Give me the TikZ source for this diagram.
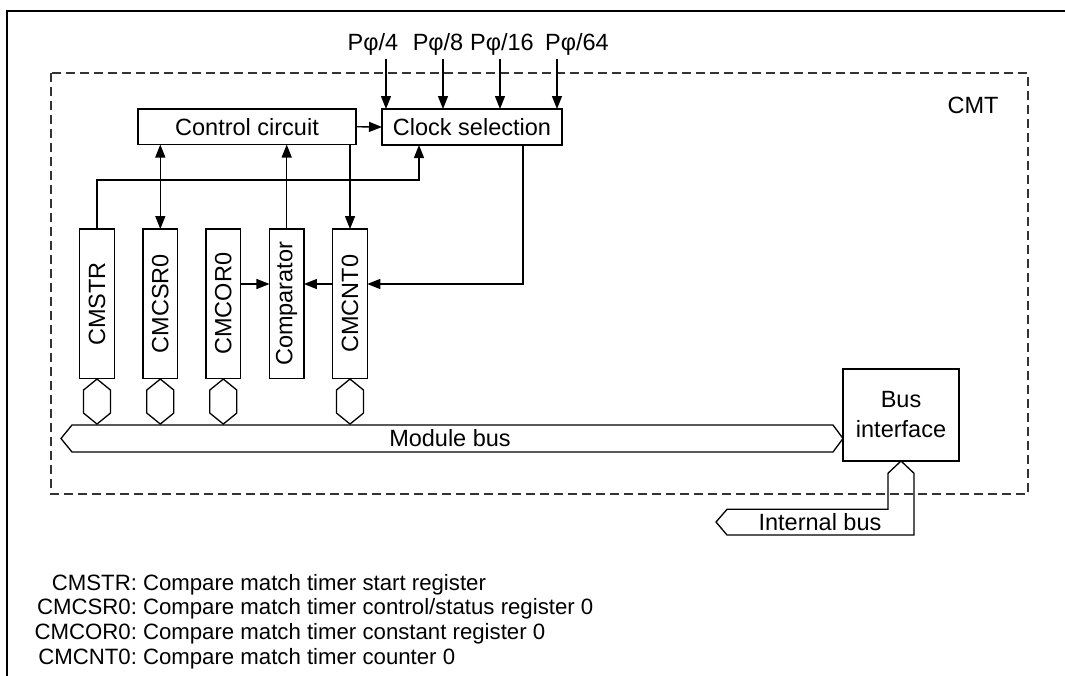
\documentclass[tikz,border=0pt]{standalone}
\usepackage{fontspec}
\setmainfont{Liberation Sans}
\usetikzlibrary{arrows.meta}
\begin{document}
\begin{tikzpicture}[x=1pt,y=-1pt,
  line width=1.3pt,
  every node/.style={inner sep=0pt, outer sep=0pt},
  dfont/.style={font=\fontsize{23.5}{30}\selectfont},
  lfont/.style={font=\fontsize{22.2}{26}\selectfont},
  box/.style={draw, dfont, align=center},
  reg/.style={draw, dfont, minimum width=34.5pt, minimum height=149.5pt},
  arr/.style={-{Triangle[length=13pt,width=10pt]}},
  darr/.style={{Triangle[length=13pt,width=10pt]}-{Triangle[length=13pt,width=10pt]}},
  bus/.style={draw, line join=miter},
]
\useasboundingbox (0,0) rectangle (1065,675);
% outer frame
\draw[line width=2.5pt] (1070,11) -- (7,11) -- (7,680);
% CMT module border
\draw[black!80, dash pattern=on 9pt off 5pt] (51,73) rectangle (1028,494);
\node[dfont, anchor=base] (cmt) at (973,113) {CMT};

% blocks
\node[box, minimum width=218pt, minimum height=35.5pt] (ctl) at (247,126.8) {Control circuit};
\node[box, minimum width=180pt, minimum height=36pt] (clk) at (472,127) {Clock selection};

% clock inputs
\node[dfont, anchor=base] (lp4)  at (373,50) {Pφ/4};
\node[dfont, anchor=base] (lp8)  at (438,50) {Pφ/8};
\node[dfont, anchor=base] (lp16) at (502,50) {Pφ/16};
\node[dfont, anchor=base] (lp64) at (577,50) {Pφ/64};
\foreach \x/\n in {386/4,443/8,500/16,557/64}{
  \coordinate (p\n) at (\x,59);
  \draw[arr] (p\n) -- (p\n |- clk.north);
}

% registers
\node[reg] (cmstr) at (97,303.8)  {\rotatebox{90}{CMSTR}};
\node[reg] (cmcsr) at (160.3,303.8) {\rotatebox{90}{CMCSR0}};
\node[reg] (cmcor) at (223.3,303.8) {\rotatebox{90}{CMCOR0}};
\node[reg] (cmp)   at (286.7,303.8) {\rotatebox{90}{Comparator}};
\node[reg] (cmcnt) at (350,303.8)   {\rotatebox{90}{CMCNT0}};

% module bus
\draw[bus] (61,438.5) -- (72,425) -- (833,425) -- (843,438.5) -- (833,452) -- (72,452) -- cycle;
\node[dfont] (mbus) at (450,438.5) {Module bus};

% hexagon connectors
\foreach \r in {cmstr,cmcsr,cmcor,cmcnt}{
  \draw[line join=miter] (\r.south) ++(0,0.5) -- ++(13.5,11) -- ++(0,23) -- ++(-13.5,11) -- ++(-13.5,-11) -- ++(0,-23) -- cycle;
}

% bus interface
\node[box, minimum width=116pt, minimum height=92pt] (bif) at (901,415) {Bus\\interface};
\draw[bus] (bif.south) -- (914,473.3) -- (914,535) -- (727,535) -- (716,522) -- (727,509.3) -- (888,509.3) -- (888,473.3) -- cycle;
\node[dfont] (ibus) at (820,522.5) {Internal bus};

% connectors
\draw[arr] (ctl.east) -- (clk.west);
\coordinate (j1) at (419,180);
\draw[arr] (cmstr.north) |- (j1) -- (j1 |- clk.south);
\draw[darr] (cmcsr.north) -- (cmcsr.north |- ctl.south);
\draw[arr] (cmp.north) -- (cmp.north |- ctl.south);
\draw[arr] (cmcnt.north |- ctl.south) -- (cmcnt.north);
\coordinate (j2) at (523,284);
\draw[arr] (j2 |- clk.south) -- (j2) -- (j2 -| cmcnt.east);
\coordinate (yc) at (0,284);
\draw[arr] (cmcor.east |- yc) -- (cmp.west |- yc);
\draw[arr] (cmcnt.west |- yc) -- (cmp.east |- yc);

% legend
\node[lfont, anchor=base east] (k1) at (137,590) {CMSTR:};
\node[lfont, anchor=base west] (d1) at (143,590) {Compare match timer start register};
\node[lfont, anchor=base east] (k2) at (137,614.7) {CMCSR0:};
\node[lfont, anchor=base west] (d2) at (143,614.7) {Compare match timer control/status register 0};
\node[lfont, anchor=base east] (k3) at (137,639.4) {CMCOR0:};
\node[lfont, anchor=base west] (d3) at (143,639.4) {Compare match timer constant register 0};
\node[lfont, anchor=base east] (k4) at (137,664) {CMCNT0:};
\node[lfont, anchor=base west] (d4) at (143,664) {Compare match timer counter 0};
\end{tikzpicture}
\end{document}
